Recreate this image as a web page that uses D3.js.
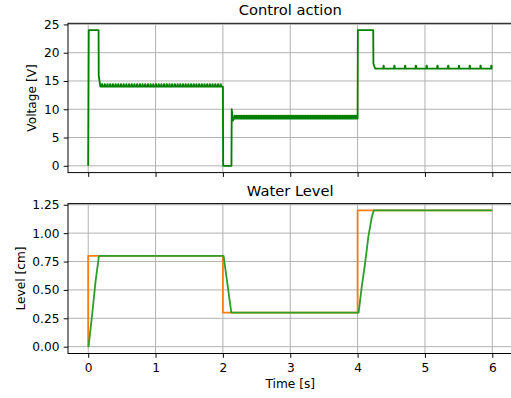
<!DOCTYPE html>
<html>
<head>
<meta charset="utf-8">
<script src="https://cdn.jsdelivr.net/npm/d3@7"></script>
<style>
  html, body { margin: 0; padding: 0; background: #fff; }
  svg { display: block; font-family: "DejaVu Sans", sans-serif; }
  .tick text { font-size: 12.2px; fill: #000; }
</style>
</head>
<body>
<svg id="chart" width="511" height="398"></svg>
<script>
// Control voltage: step keyframes (time [s], voltage [V])
const controlTime  = [0, 0.008, 0.154, 0.156, 0.18, 2.0, 2.004, 2.127, 2.131, 2.15, 2.165, 4.0, 4.004, 4.232, 4.235, 4.26, 6.0];
const controlValue = [0, 24,    24,    16,    14,   14,  0,     0,     10,    8.0,  8.35,  8.35, 24,  24,    18,    17.2, 17.2];

// Controller chatter on each plateau (start, end, base, peak, period, spike width)
const chatterStart  = [0.2,   2.17,  4.38];
const chatterEnd    = [2.0,   4.0,   6.0];
const chatterBase   = [14.0,  8.35,  17.2];
const chatterPeak   = [14.45, 8.85,  17.7];
const chatterPeriod = [0.04,  0.025, 0.16];
const chatterWidth  = [0.014, 0.012, 0.012];

// Water level: reference set-point
const refTime  = [0, 0, 2, 2, 4, 4, 6];
const refLevel = [0, 0.8, 0.8, 0.3, 0.3, 1.2, 1.2];

// Water level: measured response
const levelTime  = [0, 0.005, 0.06, 0.11, 0.16, 2.01, 2.07, 2.125, 4.015, 4.06, 4.11, 4.16, 4.21, 4.24, 6.0];
const levelValue = [0, 0,     0.29, 0.58, 0.8,  0.8,  0.54, 0.3,   0.3,   0.52, 0.73, 0.97, 1.14, 1.2,  1.2];

// Axis ticks
const xTicks      = [0, 1, 2, 3, 4, 5, 6];
const voltTicks   = [0, 5, 10, 15, 20, 25];
const levelTicks  = [0, 0.25, 0.5, 0.75, 1.0, 1.25];

// Control series with the chatter spliced into its plateaus
function controlSeries() {
  const pts = d3.zip(controlTime, controlValue);
  const out = [];
  for (let i = 0; i < pts.length; i++) {
    out.push(pts[i]);
    if (i + 1 < pts.length) {
      const a = pts[i][0], b = pts[i + 1][0];
      for (let k = 0; k < chatterStart.length; k++) {
        if (chatterStart[k] >= a && chatterEnd[k] <= b + 1e-9 && pts[i][1] === chatterBase[k]) {
          for (let t = chatterStart[k]; t + chatterWidth[k] <= chatterEnd[k] + 1e-9; t += chatterPeriod[k]) {
            out.push([t, chatterBase[k]]);
            out.push([t + chatterWidth[k] * 0.35, chatterPeak[k]]);
            out.push([t + chatterWidth[k] * 0.65, chatterPeak[k]]);
            out.push([t + chatterWidth[k], chatterBase[k]]);
          }
        }
      }
    }
  }
  return out;
}

const svg = d3.select("#chart");
const x = d3.scaleLinear().domain([-0.3, 6.3]).range([68, 512.5]);
const yV = d3.scaleLinear().domain([-1.2, 25.2]).range([172.6, 23.3]);
const yL = d3.scaleLinear().domain([-0.06, 1.26]).range([353.5, 203.6]);

const tickLen = 4.3, lw = 0.98, fs = 12.2;

function panel(y, yTicks, yFmt, title, titleY, ylabel, ylabelX, showX) {
  const [y0, y1] = y.range();
  const g = svg.append("g");
  // grid
  g.append("g").selectAll("line").data(xTicks).join("line")
    .attr("x1", d => x(d)).attr("x2", d => x(d)).attr("y1", y1).attr("y2", y0)
    .attr("stroke", "#b0b0b0").attr("stroke-width", lw);
  g.append("g").selectAll("line").data(yTicks).join("line")
    .attr("x1", x.range()[0]).attr("x2", x.range()[1]).attr("y1", d => y(d)).attr("y2", d => y(d))
    .attr("stroke", "#b0b0b0").attr("stroke-width", lw);
  // axes
  const ax = g.append("g").attr("transform", `translate(0,${y0})`)
    .call(d3.axisBottom(x).tickValues(xTicks).tickSize(tickLen).tickPadding(5.3)
      .tickFormat(showX ? d3.format("d") : () => ""));
  const ay = g.append("g").attr("transform", `translate(${x.range()[0]},0)`)
    .call(d3.axisLeft(y).tickValues(yTicks).tickSize(tickLen).tickPadding(4.3).tickFormat(yFmt));
  [ax, ay].forEach(a => {
    a.select(".domain").remove();
    a.selectAll(".tick line").attr("stroke", "#000").attr("stroke-width", lw);
    a.selectAll(".tick text").attr("font-family", "DejaVu Sans").style("font-size", fs + "px");
  });
  // frame
  g.append("rect").attr("x", x.range()[0]).attr("y", y1)
    .attr("width", x.range()[1] - x.range()[0]).attr("height", y0 - y1)
    .attr("fill", "none").attr("stroke", "#000").attr("stroke-width", lw);
  // title
  svg.append("text").attr("x", (x.range()[0] + x.range()[1]) / 2).attr("y", titleY)
    .attr("text-anchor", "middle").style("font-size", "14.7px").text(title);
  // y label
  svg.append("text")
    .attr("transform", `translate(${ylabelX},${(y0 + y1) / 2}) rotate(-90)`)
    .attr("text-anchor", "middle").style("font-size", fs + "px").text(ylabel);
  return g;
}

const panelV = panel(yV, voltTicks, d3.format("d"), "Control action", 15, "Voltage [V]", 36.2, false);
const panelL = panel(yL, levelTicks, d3.format(".2f"), "Water Level", 196, "Level [cm]", 25, true);

svg.append("text").attr("x", (x.range()[0] + x.range()[1]) / 2).attr("y", 388)
  .attr("text-anchor", "middle").style("font-size", fs + "px").text("Time [s]");

// lines
const lineV = d3.line().x(d => x(d[0])).y(d => yV(d[1]));
const lineL = d3.line().x(d => x(d[0])).y(d => yL(d[1]));

panelV.append("path").datum(controlSeries())
  .attr("d", lineV).attr("fill", "none").attr("stroke", "#008000")
  .attr("stroke-width", 1.83).attr("stroke-linejoin", "round");

panelL.append("path").datum(d3.zip(refTime, refLevel))
  .attr("d", lineL).attr("fill", "none").attr("stroke", "#ff7f0e")
  .attr("stroke-width", 1.83).attr("stroke-linejoin", "round");

panelL.append("path").datum(d3.zip(levelTime, levelValue))
  .attr("d", lineL).attr("fill", "none").attr("stroke", "#2ca02c")
  .attr("stroke-width", 1.83).attr("stroke-linejoin", "round");
</script>
</body>
</html>
